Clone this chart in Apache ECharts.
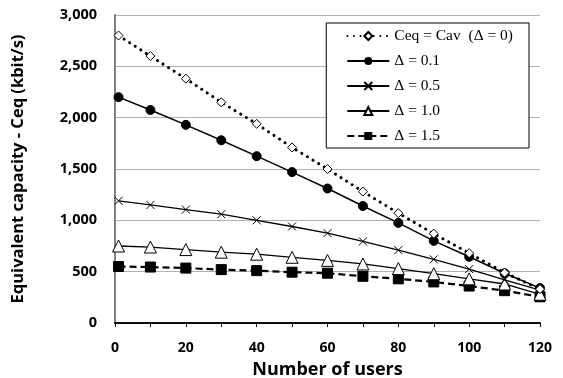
<!DOCTYPE html>
<html>
<head>
<meta charset="utf-8">
<script src="https://cdn.jsdelivr.net/npm/echarts@6/dist/echarts.min.js"></script>
<style>html,body{margin:0;padding:0;background:#fff}#c{width:563px;height:378px}</style>
</head>
<body>
<div id="c"></div>
<script>
var users = [1, 10, 20, 30, 40, 50, 60, 70, 80, 90, 100, 110, 120];
var cav   = [2800, 2600, 2380, 2150, 1940, 1710, 1500, 1280, 1070, 870, 680, 490, 330];
var d01   = [2200, 2075, 1930, 1780, 1625, 1470, 1310, 1140, 975, 800, 645, 485, 340];
var d05   = [1190, 1150, 1105, 1060, 1000, 940, 875, 795, 710, 620, 525, 420, 320];
var d10   = [750, 740, 715, 690, 670, 640, 610, 575, 530, 480, 430, 380, 280];
var d15   = [550, 545, 535, 520, 510, 495, 485, 455, 430, 400, 360, 315, 255];
var names = ['Ceq = Cav  (\u0394 = 0)', '\u0394 = 0.1', '\u0394 = 0.5', '\u0394 = 1.0', '\u0394 = 1.5'];

function pairs(v){ return users.map(function(u,i){ return [u, v[i]]; }); }
var sans = '"Open Sans", "DejaVu Sans", sans-serif';
var chart = echarts.init(document.getElementById('c'), null, {renderer:'canvas'});
chart.setOption({
  animation: false,
  backgroundColor: '#fff',
  grid: {left: 115, right: 23, top: 15, bottom: 55, outerBoundsMode: 'none', containLabel: false},
  legend: {
    right: 34, top: 23, orient: 'vertical',
    backgroundColor: '#fff', borderColor: '#000', borderWidth: 1,
    padding: [5, 16, 4, 20],
    itemWidth: 42, itemHeight: 10, itemGap: 9,
    textStyle: {fontFamily: '"Liberation Serif", "Times New Roman", serif', fontSize: 15.5, color: '#000'},
    data: names
  },
  xAxis: [{
    type: 'value', min: 0, max: 120, interval: 10,
    name: 'Number of users', nameLocation: 'middle', nameGap: 38,
    nameTextStyle: {fontFamily: sans, fontWeight: 'bold', fontSize: 18, color: '#000'},
    axisLine: {lineStyle: {color: '#000', width: 1.5}},
    axisTick: {show: true, inside: false, length: 4, lineStyle: {color: '#000'}},
    axisLabel: {margin: 18, fontFamily: sans, fontWeight: 'bold', fontSize: 14, color: '#000',
      formatter: function(v){ return v % 20 === 0 ? String(v) : ''; }},
    splitLine: {show: false}
  }, {
    type: 'value', min: 0, max: 120, position: 'top',
    axisLine: {show: true, lineStyle: {color: '#000', width: 1.5}},
    axisTick: {show: false}, axisLabel: {show: false}, splitLine: {show: false}
  }],
  yAxis: [{
    type: 'value', min: 0, max: 3000, interval: 500,
    name: 'Equivalent capacity - Ceq (kbit/s)', nameLocation: 'middle', nameGap: 88,
    nameTextStyle: {fontFamily: sans, fontWeight: 'bold', fontSize: 16.5, color: '#000'},
    axisLine: {show: true, lineStyle: {color: '#000', width: 1.5}},
    axisTick: {show: false},
    axisLabel: {margin: 18, fontFamily: sans, fontWeight: 'bold', fontSize: 14.5, color: '#000',
      formatter: function(v){ return v.toLocaleString('en-US'); }},
    splitLine: {show: true, lineStyle: {color: '#b0b0b0', width: 1}}
  }, {
    type: 'value', min: 0, max: 3000, position: 'right',
    axisLine: {show: true, lineStyle: {color: '#808080', width: 2}},
    axisTick: {show: false}, axisLabel: {show: false}, splitLine: {show: false}
  }],
  series: [
    {name: names[0], type: 'line', data: pairs(cav), symbol: 'diamond', symbolSize: 9,
     itemStyle: {color: '#fff', borderColor: '#000', borderWidth: 1},
     lineStyle: {color: '#000', width: 3, type: [0.1, 6.5], cap: 'round'}, z: 5},
    {name: names[1], type: 'line', data: pairs(d01), symbol: 'circle', symbolSize: 9,
     itemStyle: {color: '#000', borderColor: '#000'},
     lineStyle: {color: '#000', width: 1.5}, z: 4},
    {name: names[2], type: 'line', data: pairs(d05), symbol: 'path://M0,0L10,10M10,0L0,10', symbolSize: 8,
     itemStyle: {color: 'none', borderColor: '#000', borderWidth: 1},
     lineStyle: {color: '#000', width: 1.3}, z: 3},
    {name: names[3], type: 'line', data: pairs(d10), symbol: 'triangle', symbolSize: 12,
     itemStyle: {color: '#fff', borderColor: '#000', borderWidth: 1},
     lineStyle: {color: '#000', width: 1.3}, z: 2},
    {name: names[4], type: 'line', data: pairs(d15), symbol: 'rect', symbolSize: 10,
     itemStyle: {color: '#000', borderColor: '#000'},
     lineStyle: {color: '#000', width: 2.2, type: [7, 4]}, z: 1}
  ]
});
</script>
</body>
</html>
